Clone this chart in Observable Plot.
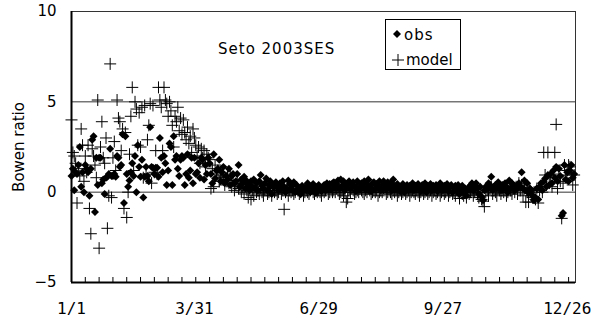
<!DOCTYPE html>
<html><head><meta charset="utf-8">
<script src="https://cdn.jsdelivr.net/npm/d3@7"></script>
<script src="https://cdn.jsdelivr.net/npm/@observablehq/plot@0.6"></script>
<style>body{margin:0;background:#fff} #chart{width:595px;height:325px}</style>
</head><body><div id="chart"></div>
<script>
// Daily Bowen ratio, day-of-year 1..365 (2003)
const obs = [
 0.9, 1.3, 0.1, 1.1, 1.0, 1.5, 2.5, 0.3, 1.1, 0.0,
 1.5, 1.3, 1.1, -0.2, 1.3, 2.9, 3.1, -1.1, 1.9, 0.4,
 1.9, 1.9, 0.5, 0.7, -0.1, 0.8, 0.85, 1.0, 2.4, 0.9,
 0.9, 1.0, 0.85, 2.0, 1.9, 1.4, 1.5, 3.2, -0.6, 3.1,
 1.0, 0.3, 0.65, 1.1, 1.6, 0.9, 2.0, 0.0, 2.6, 1.4,
 0.85, 1.8, -0.3, 0.85, 1.4, 0.9, 0.6, 3.6, 1.4, 1.35,
 1.0, 1.35, 1.35, 0.85, 3.0, 1.9, 1.1, 2.0, 1.6, 0.4,
 1.2, 2.7, 2.5, 0.4, 3.1, 1.8, 2.0, 1.3, 0.9, 1.8,
 2.0, 1.9, 0.4, 1.0, 2.1, 0.8, 1.2, 1.9, 0.5, 1.9,
 1.0, 1.1, 1.6, 0.8, 1.9, 1.8, 0.7, 1.5, 1.0, 1.9,
 1.6, 1.0, 0.5, 2.1, 0.75, 1.2, 1.3, 1.8, 0.6, 1.1,
 1.4, 0.5, 0.9, 0.7, 1.3, 0.4, 0.9, 1.0, 0.5, 0.6,
 1.0, 1.5, 0.3, 0.7, 0.5, 0.85, 0.2, 0.6, 0.4, 0.1,
 0.6, 0.3, 0.7, 0.2, 0.5, 0.1, 0.6, 0.95, 0.35, 0.2,
 0.5, 0.75, 0.1, 0.4, 0.6, -0.1, 0.3, 0.45, 0.55, 0.3,
 0.1, 0.5, 0.25, 0.6, 0.3, 0.0, 0.2, 0.65, 0.45, 0.15,
 0.35, 0.55, 0.0, 0.4, 0.15, 0.2, -0.1, 0.35, 0.1, 0.25,
 0.1, 0.5, 0.25, 0.0, 0.35, 0.45, 0.1, -0.05, 0.3, 0.4,
 0.15, 0.05, 0.3, 0.4, 0.1, 0.5, 0.2, 0.45, 0.15, 0.5,
 0.55, 0.3, 0.45, 0.65, 0.2, 0.7, 0.35, 0.6, 0.1, 0.45,
 0.3, 0.6, 0.2, 0.45, 0.55, 0.3, 0.05, 0.6, 0.4, 0.2,
 0.5, 0.3, 0.6, 0.15, 0.45, 0.7, 0.3, 0.05, 0.5, 0.55,
 0.2, 0.45, 0.3, 0.6, 0.1, 0.35, 0.6, 0.4, 0.15, 0.55,
 0.3, 0.5, 0.1, 0.7, 0.35, 0.2, 0.45, 0.3, 0.05, 0.25,
 0.45, 0.0, 0.3, 0.4, 0.1, 0.35, 0.2, 0.5, 0.1, 0.35,
 0.25, 0.45, 0.3, 0.05, 0.4, 0.2, 0.5, 0.0, 0.35, 0.25,
 0.45, 0.1, 0.35, 0.2, 0.4, 0.05, 0.3, 0.5, 0.2, 0.1,
 0.35, 0.2, 0.45, 0.05, 0.3, 0.4, 0.0, 0.25, 0.35, 0.1,
 0.4, -0.1, 0.25, 0.35, 0.0, 0.2, -0.2, 0.15, 0.3, 0.2,
 0.5, 0.1, 0.3, 0.5, 0.2, -0.1, 0.3, -0.25, -0.45, 0.1,
 0.3, 0.2, 0.5, 0.4, 0.85, 0.1, 0.3, 0.4, 0.2, 0.55,
 0.3, 0.1, 0.4, 0.2, 0.5, 0.3, 0.0, 0.65, 0.2, 0.5,
 0.4, 0.1, 0.3, 0.2, 0.5, 0.3, 1.1, 0.2, 0.65, 0.1,
 0.5, -0.05, 0.2, 0.1, -0.2, -0.45, -0.3, 0.2, -0.4, 0.3,
 0.5, 0.1, 0.6, 0.75, 0.3, 0.95, 0.4, 1.0, 0.5, 1.2,
 0.8, 1.4, 0.6, 1.3, 0.9, -1.3, -1.15, 1.5, 0.7, 1.1,
 0.6, 1.2, 1.5, 0.8, 1.0
];
const model = [
 4.0, 2.2, 2.0, 1.6, -0.6, 1.3, 0.9, 3.5, 2.6, 0.6,
 2.0, 1.1, 2.6, -0.9, -2.3, 2.4, 2.0, 1.5, 0.8, 5.1,
 -3.1, 2.5, 3.9, 1.9, 1.6, 3.0, -2.0, -0.2, 7.1, -0.3,
 1.9, 2.8, 1.2, 5.1, 4.1, 3.9, 2.3, 3.5, -0.9, 3.3,
 -1.4, 0.0, 2.1, 4.2, 5.8, 1.2, 5.0, 4.6, 2.6, 4.4,
 2.5, 4.7, 0.8, 4.8, 1.0, 2.9, 3.7, 4.9, 0.5, 4.8,
 1.1, 2.3, 1.0, 5.8, 5.1, 4.7, 2.3, 5.8, 5.1, 4.9,
 4.2, 5.0, 4.5, 3.7, 2.5, 4.2, 3.9, 4.7, 3.4, 4.1,
 3.2, 4.0, 3.3, 2.9, 3.6, 2.7, 3.1, 2.2, 3.5, 3.0,
 2.6, 2.0, 2.5, 1.6, 2.4, 1.9, 2.3, 1.4, 2.1, 1.9,
 1.8, 0.2, 1.3, 0.3, 1.5, 1.0, 1.2, 0.6, 1.1, 0.8,
 0.9, 0.4, 0.7, 0.85, 0.5, 1.0, 0.3, 0.65, 0.1, 0.4,
 0.65, 0.2, 0.5, 0.0, 0.3, -0.1, 0.4, 0.1, -0.3, 0.2,
 -0.4, 0.1, -0.2, 0.3, 0.0, 0.1, -0.1, 0.2, 0.0, -0.2,
 0.1, 0.2, -0.1, 0.0, 0.1, -0.2, 0.2, 0.0, 0.1, -0.1,
 0.0, 0.2, -0.1, 0.1, -0.95, 0.0, 0.1, -0.2, 0.1, 0.0,
 0.1, -0.1, 0.0, 0.2, 0.1, -0.1, 0.0, 0.1, -0.2, 0.0,
 0.1, 0.0, -0.1, 0.1, 0.2, 0.0, -0.1, 0.1, 0.0, 0.1,
 0.0, -0.2, 0.1, 0.0, 0.1, 0.2, -0.1, 0.0, 0.1, 0.0,
 0.1, 0.0, 0.2, 0.1, -0.1, 0.0, 0.1, -0.2, 0.0, -0.55,
 -0.35, 0.1, 0.0, 0.2, 0.1, -0.1, 0.0, 0.1, 0.0, 0.2,
 0.1, 0.0, -0.1, 0.1, 0.0, 0.2, 0.1, -0.1, 0.0, 0.1,
 0.0, 0.1, -0.2, 0.0, 0.1, 0.0, 0.2, 0.1, -0.1, 0.0,
 0.1, 0.0, -0.1, 0.1, 0.0, 0.1, -0.2, 0.0, 0.1, -0.1,
 0.0, 0.1, -0.1, 0.0, 0.1, -0.2, 0.0, 0.1, 0.0, -0.1,
 0.1, 0.0, -0.2, 0.0, 0.1, -0.1, 0.0, 0.1, -0.1, 0.0,
 0.1, -0.2, 0.0, 0.1, -0.1, 0.0, 0.1, -0.2, 0.0, 0.1,
 -0.1, 0.0, 0.1, -0.2, 0.0, 0.1, -0.1, 0.0, -0.2, 0.1,
 0.0, -0.35, 0.1, -0.1, -0.2, 0.0, -0.3, 0.1, -0.1, 0.0,
 0.1, -0.2, 0.0, 0.2, -0.1, -0.3, 0.0, -0.4, -0.5, -0.8,
 0.0, 0.1, -0.2, 0.2, 0.3, -0.1, 0.1, 0.0, -0.2, 0.2,
 0.1, -0.1, 0.2, 0.0, 0.1, -0.2, 0.0, 0.2, 0.1, -0.1,
 0.2, 0.0, 0.3, -0.1, 0.5, 0.1, 0.4, -0.2, 0.2, -0.55,
 0.0, -0.55, 0.1, -0.2, -0.3, 0.0, -0.4, 0.2, -0.6, 0.1,
 0.3, 0.0, 2.2, 0.95, 0.4, 2.2, 0.5, 0.8, 0.3, 1.0,
 2.2, 3.75, 0.2, 0.9, 0.6, -1.45, 0.5, 1.5, 0.95, 1.2,
 1.5, 1.4, 1.0, 0.4, 0.95
];
const yTicks = [-5, 0, 5, 10];
const gridValues = [0, 5];
const xLabelDays = [1, 90, 180, 270, 360];
const xLabels = ["1/1", "3/31", "6/29", "9/27", "12/26"];
const minorTickDays = [1,11,21,31,41,51,61,71,81,91,101,111,121,131,141,151,161,171,181,191,201,211,221,231,241,251,261,271,281,291,301,311,321,331,341,351,361];
const seriesNames = ["obs", "model"];
const chartTitle = "Seto 2003SES";
const yTitle = "Bowen ratio";

const obsData = obs.map((v, i) => ({day: i + 1, value: v})).filter(d => d.value != null);
const modelData = model.map((v, i) => ({day: i + 1, value: v})).filter(d => d.value != null);

const chart = Plot.plot({
  width: 595, height: 325,
  marginLeft: 71, marginRight: 20, marginTop: 11, marginBottom: 43,
  x: {domain: [1, 366], axis: null},
  y: {domain: [-5, 10], axis: null},
  style: {fontFamily: "DejaVu Sans", background: "white", color: "black"},
  marks: [
    Plot.ruleY(gridValues, {stroke: "#333", strokeWidth: 1}),
    Plot.frame({stroke: "#333", strokeWidth: 1}),
    Plot.dot(obsData, {x: "day", y: "value", symbol: "diamond2", r: 3.6, fill: "black", stroke: "none"}),
    Plot.dot(modelData, {x: "day", y: "value", symbol: "plus", r: 3.95, stroke: "black", strokeWidth: 1}),
    Plot.ruleX([1], {stroke: "black", strokeWidth: 2}),
    Plot.ruleY([-5], {stroke: "black", strokeWidth: 2}),
    Plot.ruleX(minorTickDays, {y1: -5, y2: -5, insetBottom: 5, stroke: "black", strokeWidth: 1}),
    Plot.axisY({ticks: yTicks, tickSize: 0, tickPadding: 15, fontSize: 15, fontFamily: "DejaVu Sans", label: null,
      tickFormat: d => d < 0 ? "\u2212" + (-d) : String(d)}),
    Plot.axisX({ticks: xLabelDays, tickSize: 0, tickPadding: 20, fontSize: 16, fontFamily: "DejaVu Sans Mono", label: null,
      tickFormat: d => xLabels[xLabelDays.indexOf(d)]})
  ]
});
document.getElementById("chart").appendChild(chart);

const svg = d3.select(chart);
svg.append("text")
  .attr("transform", "translate(19,147) rotate(-90)")
  .attr("text-anchor", "middle").attr("dominant-baseline", "central")
  .attr("font-family", "DejaVu Sans").attr("font-size", 15).attr("fill", "black")
  .text(yTitle);
svg.append("text")
  .attr("x", 218).attr("y", 53.5).attr("text-anchor", "start")
  .attr("font-family", "DejaVu Sans").attr("font-size", 15).attr("letter-spacing", 1).attr("fill", "black")
  .text(chartTitle);

const lg = svg.append("g");
lg.append("rect").attr("x", 385.5).attr("y", 19.5).attr("width", 75).attr("height", 50)
  .attr("fill", "white").attr("stroke", "black").attr("stroke-width", 1);
lg.append("path").attr("transform", "translate(397,34)")
  .attr("d", d3.symbol(d3.symbolDiamond2, 3.6 * 3.6 * Math.PI)()).attr("fill", "black");
lg.append("path").attr("transform", "translate(398,60)")
  .attr("d", d3.symbol(d3.symbolPlus, 3.95 * 3.95 * Math.PI)()).attr("fill", "none").attr("stroke", "black");
lg.append("text").attr("x", 404).attr("y", 39.5).attr("text-anchor", "start").attr("font-family", "DejaVu Sans").attr("font-size", 15)
  .attr("letter-spacing", 1).attr("fill", "black").text(seriesNames[0]);
lg.append("text").attr("x", 406).attr("y", 65).attr("text-anchor", "start").attr("font-family", "DejaVu Sans").attr("font-size", 15)
  .attr("fill", "black").text(seriesNames[1]);
</script>
</body></html>
